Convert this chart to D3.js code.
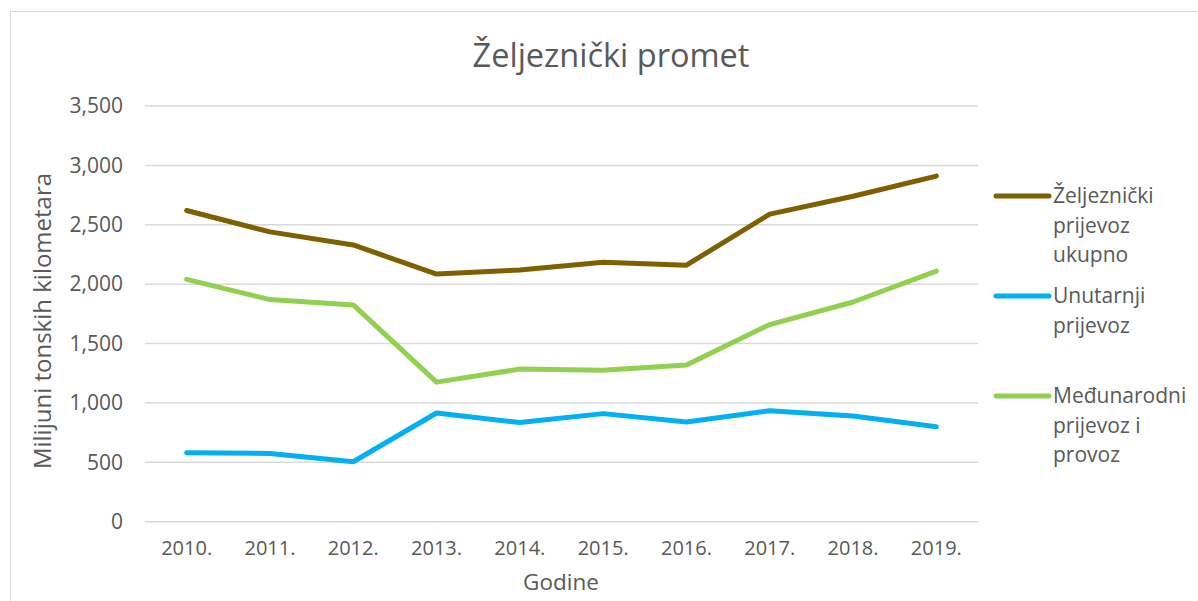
<!DOCTYPE html>
<html><head><meta charset="utf-8">
<script src="https://cdn.jsdelivr.net/npm/d3@7"></script>
<style>body{margin:0;background:#fff}svg{display:block}text{font-family:"Open Sans",sans-serif;fill:#595959}</style>
</head><body><svg id="c" width="1198" height="601"></svg>
<script>
const years = ["2010.","2011.","2012.","2013.","2014.","2015.","2016.","2017.","2018.","2019."];
const ukupno = [2620,2440,2330,2085,2120,2185,2160,2590,2740,2910];
const unutarnji = [580,575,505,915,835,910,840,935,890,800];
const medunarodni = [2040,1870,1825,1175,1285,1275,1320,1660,1850,2110];
const yTicks = [0,500,1000,1500,2000,2500,3000,3500];
const seriesNames = [["Željeznički","prijevoz","ukupno"],["Unutarnji","prijevoz"],["Međunarodni","prijevoz i","provoz"]];
const series = [ukupno, unutarnji, medunarodni];
const colors = ["#7f6000","#00b0f0","#92d050"];

const svg = d3.select("#c");
svg.append("rect").attr("x",10.5).attr("y",11.5).attr("width",1200).attr("height",620)
  .attr("fill","none").attr("stroke","#d9d9d9");

const x = d3.scaleBand().domain(years).range([145,978]);
const y = d3.scaleLinear().domain([0,3500]).range([521.7,106]);

svg.append("g").selectAll("line").data(yTicks).join("line")
  .attr("x1",145).attr("x2",978).attr("y1",d=>y(d)).attr("y2",d=>y(d))
  .attr("stroke","#d9d9d9").attr("stroke-width",1.5);

const fmt = d3.format(",");
const yAxis = d3.axisLeft(y).tickValues(yTicks).tickFormat(fmt).tickSize(0).tickPadding(22);
const ya = svg.append("g").attr("transform","translate(145,0)").call(yAxis);
ya.select(".domain").remove();
ya.selectAll("text").attr("font-size",21).attr("font-family","Open Sans").attr("fill","#595959");

const xAxis = d3.axisBottom(x).tickSize(0).tickPadding(19);
const xa = svg.append("g").attr("transform","translate(0,521.7)").call(xAxis);
xa.select(".domain").remove();
xa.selectAll("text").attr("font-size",20).attr("font-family","Open Sans").attr("fill","#595959");

const line = d3.line().x((d,i)=>x(years[i])+x.bandwidth()/2).y(d=>y(d));
series.forEach((s,k)=>{
  svg.append("path").datum(s).attr("d",line).attr("fill","none")
    .attr("stroke",colors[k]).attr("stroke-width",5).attr("stroke-linecap","round").attr("stroke-linejoin","round");
});

svg.append("text").attr("x",611).attr("y",67).attr("text-anchor","middle")
  .attr("font-size",32.5).text("Željeznički promet");
svg.append("text").attr("x",561).attr("y",590).attr("text-anchor","middle")
  .attr("font-size",22.5).text("Godine");
svg.append("text").attr("transform","translate(51,321) rotate(-90)").attr("text-anchor","middle")
  .attr("font-size",24).text("Milijuni tonskih kilometara");

const legY = [196,296,396];
seriesNames.forEach((names,k)=>{
  const g = svg.append("g");
  g.append("line").attr("x1",996).attr("x2",1049).attr("y1",legY[k]).attr("y2",legY[k])
    .attr("stroke",colors[k]).attr("stroke-width",5).attr("stroke-linecap","round");
  names.forEach((t,j)=>{
    g.append("text").attr("x",1053).attr("y",legY[k]+7+j*29.5).attr("font-size",21).text(t);
  });
});
</script></body></html>
